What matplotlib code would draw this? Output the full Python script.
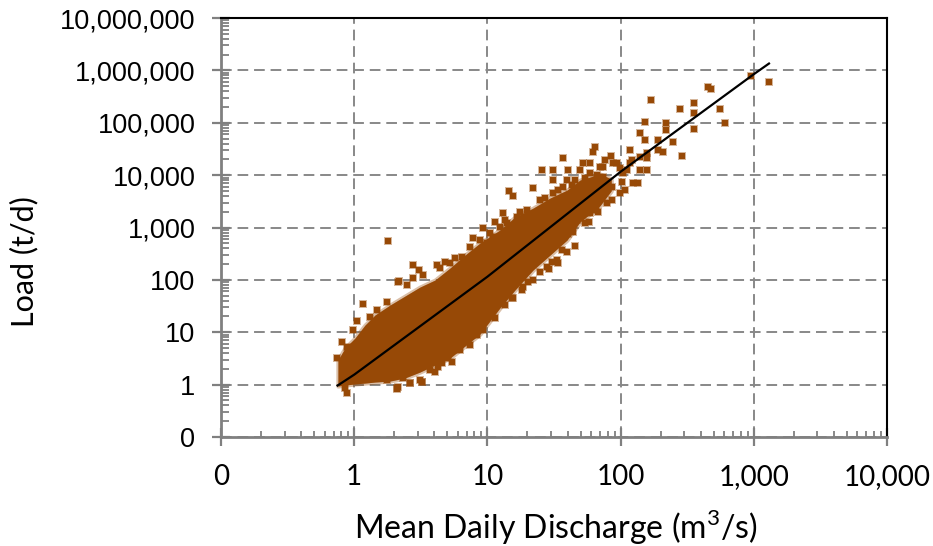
import matplotlib.pyplot as plt
from matplotlib.ticker import LogLocator, FuncFormatter, NullFormatter


# daily samples: mean daily discharge (m3/s) and load (t/d)
# outliers and edge points of the cloud
q = [1300, 953, 453, 477, 169, 356, 279, 557, 356, 608, 356, 152, 219, 219,
     140, 152, 247, 289, 191, 118, 191, 64.3, 62.1, 84.7, 135, 65.4, 57.9,
     45.5, 37.0, 25.7, 22.0, 14.5, 15.6, 31.1, 31.1, 11.4, 13.1, 9.27, 7.80,
     1.79, 52.2, 70.0, 94.0, 112, 102, 86.2, 73.8, 58.9, 140, 158, 208, 104,
     122, 76.4, 45.5, 40.3, 0.883, 0.853, 3.23, 2.13, 1.16, 1.05, 0.98, 0.809,
     2.76, 4.18, 2.17, 3.06, 2.49, 33.9, 29.0, 40.3, 18.2, 15.3, 7.80, 6.12,
     4.56, 2.62, 2.10,
     # upper edge
     0.743, 0.883, 1.315, 1.483, 1.762, 2.13, 2.762, 3.288, 4.406, 5.24, 6.45,
     8.80, 9.93, 11.0, 12.4, 14.0, 16.7, 19.8, 24.8, 31.1, 37.0, 39.6, 49.5,
     58.9, 73.8, 87.7, 98.9, 118, 140, 158,
     4.81, 5.71, 7.40, 10.5, 13.6, 17.6, 27.1, 33.9, 43.2, 54.1, 66.5,
     # lower edge
     1.762, 2.096, 2.323, 2.624, 3.228, 3.707, 4.256, 5.06, 6.23, 7.15, 8.35,
     9.27, 15.6, 18.5, 22.0, 28.0, 33.3, 39.6, 41.7, 47.1, 58.9, 79.1, 98.9,
     124, 158,
     3.12, 4.04, 5.42, 7.40, 11.4, 13.6, 20.2, 24.8, 30.5, 36.3, 44.0, 54.1,
     67.6, 86.1, 108]
load = [596000, 775000, 478000, 438000, 270000, 237000, 182000, 182000,
        152000, 98200, 75500, 102600, 98200, 72300, 63400, 46600, 42700,
        23100, 46600, 30000, 30000, 34200, 27500, 23100, 7030, 2150, 1270,
        442, 21100, 12400, 5650, 4950, 3970, 12400, 8030, 1270, 1880, 975, 628,
        550, 16900, 14200, 16900, 12400, 7350, 5900, 9160, 10900, 12400, 21100,
        27500, 10900, 19300, 19300, 8030, 12400, 0.692, 0.861, 1.12, 0.90,
        34.5, 16.4, 11.0, 6.50, 191, 191, 94.8, 154, 79.6, 209, 161, 748, 63.9,
        45.0, 9.66, 4.99, 2.58, 1.07, 0.824,
        # upper edge
        3.22, 5.22, 19.5, 26.5, 37.7, 90.8, 108, 124, 168, 209, 272, 575, 504,
        656, 1018, 1213, 1580, 2150, 3330, 4530, 5900, 8030, 12400, 16900,
        14200, 16900, 13600, 16900, 22100, 26300,
        219, 261, 423, 782, 1384, 1970, 3640, 5170, 6440, 8770, 10000,
        # lower edge
        1.22, 0.861, 1.34, 1.07, 1.12, 1.90, 2.17, 3.22, 4.57, 7.10, 8.85, 11.0,
        45.0, 72.9, 99.1, 175, 239, 340, 892, 1384, 1880, 2920, 4530, 7030,
        12400,
        1.22, 1.74, 2.70, 5.70, 18.7, 33.0, 90.8, 141, 219, 371, 817, 1213,
        1970, 3330, 5170]

# solid core of the cloud: discharge with lower and upper load
band_q = [0.755, 0.853, 1.014, 1.205, 1.432, 1.857, 2.407, 3.119, 4.041, 5.24,
          6.79, 8.80, 12.4, 16.1, 22.0, 29.5, 39.6, 49.5, 70.0, 85.0]
band_lo = [0.94, 0.98, 1.03, 1.07, 1.12, 1.17, 1.34, 1.74, 2.37, 3.22, 5.46,
           9.25, 29.0, 63.9, 154, 297, 575, 1270, 2600, 5000]
band_hi = [2.95, 4.99, 7.75, 13.7, 21.3, 33.0, 49.1, 72.9, 99.1, 168, 297,
           504, 892, 1580, 2340, 3640, 5170, 8030, 10500, 8500]

# rating curve
fit_q = [0.75, 1, 10, 100, 1000, 1300]
fit_load = [0.96, 1.55, 115, 11600, 845000, 1350000]

brown = '#974906'
grey = '#808080'

fig = plt.figure(figsize=(9.33, 5.46), dpi=100)
ax = fig.add_axes([221 / 933, 1 - 437 / 546, 666 / 933, 419 / 546])
ax.set_xscale('log')
ax.set_yscale('log')
ax.set_xlim(0.1, 10000)
ax.set_ylim(0.1, 1e7)

ax.grid(which='major', color='#888888', linestyle=(0, (5.5, 3)), linewidth=1.4)
ax.set_axisbelow(True)

ax.fill_between(band_q, band_lo, band_hi, color=brown, alpha=0.35,
                linewidth=3, edgecolor=brown, zorder=2)
ax.fill_between(band_q, band_lo, band_hi, color=brown, linewidth=0, zorder=3)
ax.scatter(q, load, s=38, marker='s', color=brown, alpha=0.4,
           linewidths=0, zorder=3)
ax.scatter(q, load, s=14, marker='s', color=brown, linewidths=0, zorder=4)
ax.plot(fit_q, fit_load, color='black', linewidth=1.6, zorder=5)

for side in ['top', 'right']:
    ax.spines[side].set_color('black')
    ax.spines[side].set_linewidth(1.5)
for side in ['left', 'bottom']:
    ax.spines[side].set_color(grey)
    ax.spines[side].set_linewidth(2)

ax.xaxis.set_major_locator(LogLocator(base=10, numticks=20))
ax.yaxis.set_major_locator(LogLocator(base=10, numticks=20))
ax.xaxis.set_minor_locator(LogLocator(base=10, subs=range(2, 10), numticks=20))
ax.yaxis.set_minor_locator(LogLocator(base=10, subs=range(2, 10), numticks=20))
ax.xaxis.set_minor_formatter(NullFormatter())
ax.yaxis.set_minor_formatter(NullFormatter())

fmt = FuncFormatter(lambda v, p: '0' if v < 1 else f'{v:,.0f}')
ax.xaxis.set_major_formatter(fmt)
ax.yaxis.set_major_formatter(fmt)

ax.tick_params(which='major', direction='inout', color=grey, width=1.6)
ax.tick_params(which='minor', direction='in', color=grey, width=1.3)
ax.tick_params(axis='x', which='major', length=13, pad=13)
ax.tick_params(axis='x', which='minor', length=4.5)
ax.tick_params(axis='y', which='major', length=13, pad=12)
ax.tick_params(axis='y', which='minor', length=6)
ax.tick_params(top=False, right=False, which='both')

for lab in ax.get_xticklabels():
    lab.set_fontfamily('Lato')
    lab.set_fontsize(20)
for lab in ax.get_yticklabels():
    lab.set_fontfamily('Liberation Sans')
    lab.set_fontsize(19.5)

ax.set_xlabel('Mean Daily Discharge (m$^{\\mathregular{3}}$/s)',
              fontfamily='Lato', fontsize=23)
ax.set_ylabel('Load (t/d)', fontfamily='Lato', fontsize=22)
ax.xaxis.set_label_coords(0.503, -0.168)
ax.yaxis.set_label_coords(-0.274, 0.419)

fig.savefig('out.png', dpi=100)
